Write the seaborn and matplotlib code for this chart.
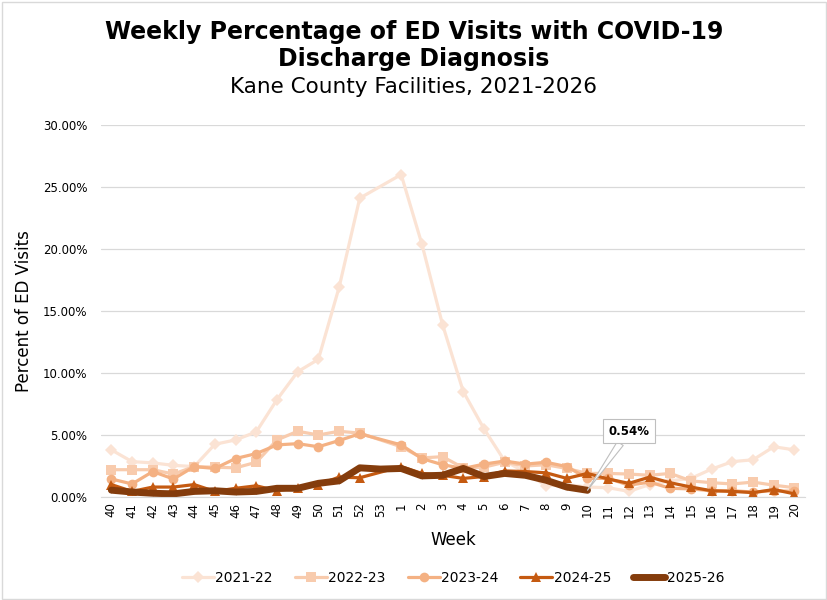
import numpy as np
import pandas as pd
import matplotlib
matplotlib.use("Agg")
import matplotlib.pyplot as plt
import seaborn as sns
from matplotlib.ticker import PercentFormatter

nan = np.nan

# MMWR weeks shown on the x axis (season runs week 40 -> week 20)
weeks = ['40', '41', '42', '43', '44', '45', '46', '47', '48', '49', '50', '51', '52', '53',
         '1', '2', '3', '4', '5', '6', '7', '8', '9', '10', '11', '12', '13', '14', '15',
         '16', '17', '18', '19', '20']

# percent of ED visits, one list per season (nan = no data)
s2122 = [3.8, 2.85, 2.75, 2.55, 2.45, 4.25, 4.6, 5.25, 7.85, 10.1, 11.1, 16.9, 24.1, nan,
         26.0, 20.4, 13.9, 8.5, 5.5, 2.9, 2.0, 0.9, 1.0, 0.8, 0.75, 0.45, 1.0, 1.3, 1.5,
         2.25, 2.85, 3.0, 4.05, 3.8]
s2223 = [2.2, 2.2, 2.2, 1.85, 2.45, 2.4, 2.35, 2.8, 4.6, 5.3, 5.0, 5.3, 5.15, nan,
         4.05, 3.15, 3.25, 2.35, 2.4, 2.8, 2.5, 2.6, 2.3, 1.9, 1.9, 1.85, 1.75, 1.9, 1.3,
         1.15, 1.05, 1.2, 0.95, 0.75]
s2324 = [1.45, 1.05, 2.05, 1.45, 2.45, 2.3, 3.1, 3.5, 4.2, 4.3, 4.05, 4.55, 5.1, nan,
         4.2, 3.1, 2.6, 2.3, 2.65, 2.9, 2.65, 2.8, 2.45, 1.5, 1.5, 0.95, 1.2, 0.7, 0.65,
         0.5, 0.5, 0.4, 0.5, 0.45]
s2425 = [1.0, 0.45, 0.8, 0.8, 1.0, 0.45, 0.7, 0.9, 0.5, 0.75, 1.0, 1.6, 1.55, nan,
         2.45, 1.9, 1.75, 1.5, 1.65, 2.1, 2.05, 1.95, 1.5, 1.9, 1.45, 1.1, 1.6, 1.15, 0.8,
         0.5, 0.45, 0.35, 0.6, 0.25]
s2526 = [0.55, 0.4, 0.3, 0.25, 0.45, 0.5, 0.4, 0.45, 0.7, 0.7, 1.1, 1.3, 2.35, 2.25,
         2.3, 1.7, 1.75, 2.3, 1.65, 1.9, 1.75, 1.35, 0.8, 0.54, nan, nan, nan, nan, nan,
         nan, nan, nan, nan, nan]

seasons = ['2021-22', '2022-23', '2023-24', '2024-25', '2025-26']
values = [s2122, s2223, s2324, s2425, s2526]

rows = []
for season, vals in zip(seasons, values):
    for i, v in enumerate(vals):
        rows.append({'pos': i, 'week': weeks[i], 'season': season, 'pct': v})
df = pd.DataFrame(rows)

colors = {'2021-22': '#FBE3D4', '2022-23': '#F8CBAD', '2023-24': '#F4B183',
          '2024-25': '#C55A11', '2025-26': '#843C0C'}
markers = {'2021-22': 'D', '2022-23': 's', '2023-24': 'o', '2024-25': '^', '2025-26': 'D'}
msize = {'2021-22': 6.5, '2022-23': 7, '2023-24': 7, '2024-25': 6.5, '2025-26': 3}
lwidth = {'2021-22': 2.3, '2022-23': 2.3, '2023-24': 2.3, '2024-25': 2.3, '2025-26': 5}

sns.set_style("white")
plt.rcParams['font.family'] = ['DejaVu Sans']
plt.rcParams['text.color'] = 'black'
plt.rcParams['axes.labelcolor'] = 'black'

fig = plt.figure(figsize=(8.28, 6), dpi=100)
ax = fig.add_axes([0.122, 0.1717, 0.850, 0.620])

for season in seasons:
    sub = df[df['season'] == season]
    sns.lineplot(data=sub, x='pos', y='pct', ax=ax, label=season,
                 color=colors[season], marker=markers[season],
                 markersize=msize[season], markeredgewidth=0,
                 linewidth=lwidth[season], solid_joinstyle='round')

ax.set_xlim(-0.5, len(weeks) - 0.5)
ax.set_ylim(0, 30)
ax.set_yticks(np.arange(0, 31, 5))
ax.yaxis.set_major_formatter(PercentFormatter(decimals=2))
ax.set_xticks(range(len(weeks)))
ax.set_xticklabels(weeks, rotation=90)
ax.tick_params(axis='both', labelsize=8.5, length=0, colors='#000000')
ax.tick_params(axis='y', pad=10)
ax.tick_params(axis='x', pad=4)
ax.grid(axis='y', color='#D9D9D9', linewidth=0.9)
for side in ['top', 'right', 'left']:
    ax.spines[side].set_visible(False)
ax.spines['bottom'].set_color('#D9D9D9')
ax.set_axisbelow(True)

ax.set_xlabel('Week', fontsize=12, labelpad=10)
ax.set_ylabel('Percent of ED Visits', fontsize=12, labelpad=7)

# callout for the latest value
ax.annotate('0.54%', xy=(23, 0.54), xytext=(25, 5.3),
            fontsize=8.5, fontweight='bold', ha='center', va='center',
            bbox=dict(boxstyle='square,pad=0.45', fc='white', ec='#BFBFBF', lw=0.8),
            arrowprops=dict(arrowstyle='wedge,tail_width=0.6', fc='white',
                            ec='#BFBFBF', lw=0.8, shrinkA=0, shrinkB=0))

handles, labels = ax.get_legend_handles_labels()
ax.legend(handles, labels, loc='center', bbox_to_anchor=(0.5, -0.218), ncol=5,
          frameon=False, fontsize=10, handlelength=2.3, handletextpad=0.1,
          columnspacing=1.6)

fig.text(0.5, 0.947, 'Weekly Percentage of ED Visits with COVID-19', ha='center',
         va='center', fontsize=17, fontweight='bold')
fig.text(0.5, 0.902, 'Discharge Diagnosis', ha='center', va='center',
         fontsize=17, fontweight='bold')
fig.text(0.5, 0.855, 'Kane County Facilities, 2021-2026', ha='center', va='center',
         fontsize=15.5)

fig.add_artist(plt.Rectangle((0.002, 0.002), 0.996, 0.995, transform=fig.transFigure,
                             fill=False, ec='#D9D9D9', lw=1))

fig.savefig('out.png', dpi=100)
